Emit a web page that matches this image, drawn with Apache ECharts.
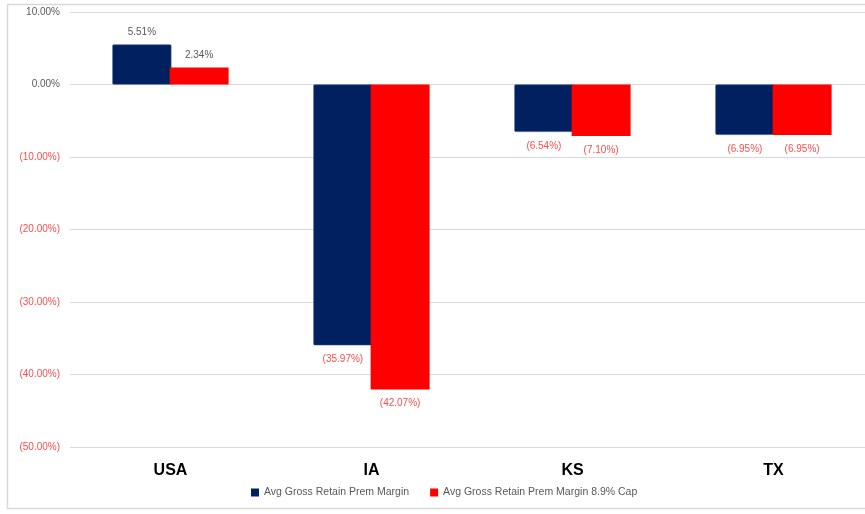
<!DOCTYPE html>
<html>
<head>
<meta charset="utf-8">
<script src="https://cdn.jsdelivr.net/npm/echarts@6/dist/echarts.min.js"></script>
<style>
  html, body { margin: 0; padding: 0; background: #fff; overflow: hidden; }
  #chart { width: 885px; height: 514px; }
</style>
</head>
<body>
<div id="chart"></div>
<script>
// Regions shown along the x axis
const categories = ['USA', 'IA', 'KS', 'TX'];
// Average gross retained premium margin, in percent
const marginValues = [5.51, -35.97, -6.54, -6.95];
// Same margin with the 8.9% cap applied, in percent
const cappedValues = [2.34, -42.07, -7.10, -6.95];
// Y axis range and step, in percent
const yMin = -50, yMax = 10, yStep = 10;
const seriesNames = ['Avg Gross Retain Prem Margin', 'Avg Gross Retain Prem Margin 8.9% Cap'];

const NAVY = '#002060';
const RED = '#ff0000';
const NEG_TEXT = '#ff4b4b';
const POS_TEXT = '#595959';
const FONT = 'Liberation Sans, Arial, sans-serif';

function fmtPct(v) {
  const s = Math.abs(v).toFixed(2) + '%';
  return v < 0 ? '(' + s + ')' : s;
}

function barData(values) {
  return values.map(v => ({
    value: v,
    label: {
      show: true,
      position: v < 0 ? 'bottom' : 'top',
      distance: v < 0 ? 9 : 7,
      color: v < 0 ? NEG_TEXT : POS_TEXT,
      fontSize: 10,
      fontFamily: FONT,
      formatter: p => fmtPct(p.value)
    }
  }));
}

const chart = echarts.init(document.getElementById('chart'));
chart.setOption({
  animation: false,
  backgroundColor: '#fff',
  graphic: [{
    type: 'rect',
    shape: { x: 7.5, y: 4.5, width: 875, height: 504 },
    style: { fill: 'none', stroke: '#d9d9d9', lineWidth: 1.5 },
    silent: true
  }],
  grid: { left: 70, top: 12, width: 804, height: 435, containLabel: false },
  legend: {
    bottom: 11,
    left: 246,
    itemWidth: 8,
    itemHeight: 8,
    itemGap: 21,
    icon: 'rect',
    itemStyle: { borderWidth: 0 },
    textStyle: { color: '#595959', fontSize: 10.5, fontFamily: FONT },
    data: seriesNames
  },
  xAxis: {
    type: 'category',
    data: categories,
    axisLine: { show: false },
    axisTick: { show: false },
    axisLabel: {
      margin: 16,
      color: '#000',
      fontSize: 16,
      fontWeight: 'bold',
      fontFamily: FONT
    }
  },
  yAxis: {
    type: 'value',
    min: yMin,
    max: yMax,
    interval: yStep,
    axisLine: { show: false },
    axisTick: { show: false },
    splitLine: { lineStyle: { color: '#d9d9d9', width: 1 } },
    axisLabel: {
      margin: 10,
      fontSize: 10,
      fontFamily: FONT,
      formatter: v => v < 0 ? '{n|' + fmtPct(v) + '}' : '{p|' + fmtPct(v) + '}',
      rich: {
        n: { color: NEG_TEXT, fontSize: 10 },
        p: { color: POS_TEXT, fontSize: 10 }
      }
    }
  },
  series: [
    {
      name: seriesNames[0],
      type: 'bar',
      data: barData(marginValues),
      itemStyle: { color: NAVY, borderColor: '#2e4a86', borderWidth: 0.6, borderRadius: 1 },
      barWidth: 59,
      barGap: '-3%'
    },
    {
      name: seriesNames[1],
      type: 'bar',
      data: barData(cappedValues),
      itemStyle: { color: RED },
      barWidth: 59
    }
  ]
});
</script>
</body>
</html>
